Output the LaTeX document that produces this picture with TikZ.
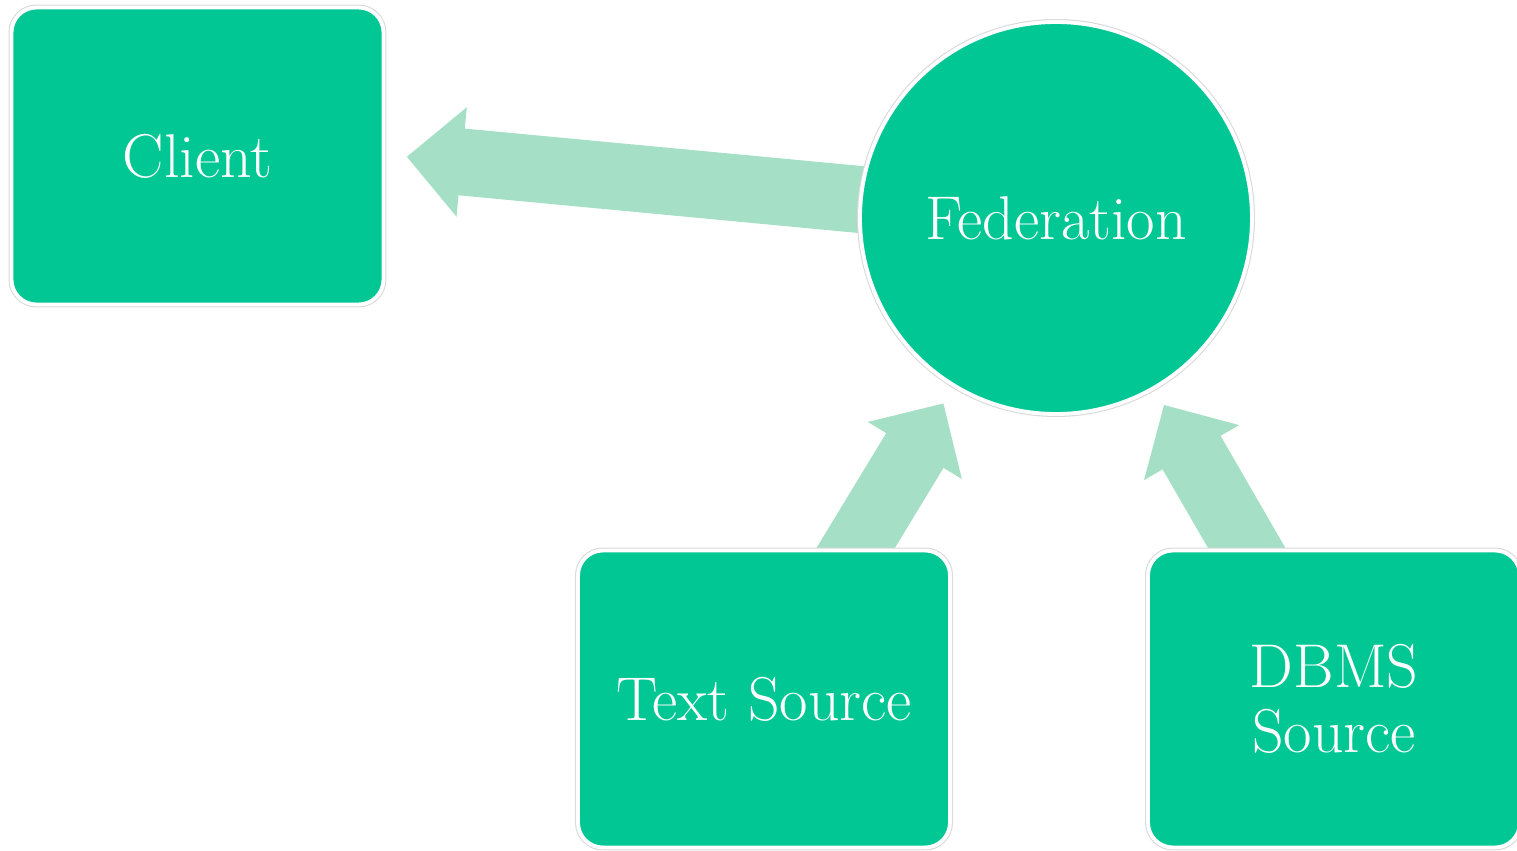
\documentclass[tikz,border=0pt]{standalone}
\usepackage{tikz}
\usetikzlibrary{calc,backgrounds}

\definecolor{smartgreen}{RGB}{0,199,148}
\definecolor{arrowgreen}{RGB}{164,223,198}

\tikzset{
	block/.style={rectangle,rounded corners=0.25cm,fill=smartgreen,draw=white,line width=1.1pt,
		preaction={draw=black!15,line width=1.7pt},
		minimum width=3.72cm,minimum height=2.97cm,inner sep=0pt,
		text=white,align=center,font=\fontsize{17.6}{18.5}\selectfont},
	hub/.style={circle,fill=smartgreen,draw=white,line width=1.1pt,
		preaction={draw=black!15,line width=1.7pt},
		minimum size=3.92cm,inner sep=0pt,
		text=white,font=\fontsize{17.6}{18.5}\selectfont},
	arrowfill/.style={fill=arrowgreen}
}

% fat arrow: #1 = tail, #2 = tip
\newcommand{\blockarrow}[2]{%
	\coordinate (hb) at ($(#2)!0.55cm!(#1)$);
	\fill[arrowfill] ($(#1)!0.335cm!90:(#2)$) -- ($(hb)!0.335cm!90:(#2)$)
		-- ($(hb)!0.55cm!90:(#2)$) -- (#2) -- ($(hb)!0.55cm!-90:(#2)$)
		-- ($(hb)!0.335cm!-90:(#2)$) -- ($(#1)!0.335cm!-90:(#2)$) -- cycle;
}

\begin{document}
\begin{tikzpicture}
		\useasboundingbox (0,0) rectangle (15.17,8.51);
		
		% nodes
		\node[block] (client) at (1.975,6.95) {Client};
		\node[hub] (fed) at (10.56,6.33) {Federation};
		\node[block] (textsrc) at (7.64,1.52) {Text Source};
		\node[block] (dbmssrc) at (13.34,1.52) {DBMS\\Source};
		
		% arrows, behind the shapes
		\begin{scope}[on background layer]
			\coordinate (clientaim) at ([yshift=1.9mm]client.center);
			\coordinate (tipclient) at ($(fed.center)!6.52cm!(clientaim)$);
			\coordinate (tiptext) at ($(fed.center)!2.17cm!(textsrc.center)$);
			\coordinate (tipdbms) at ($(fed.center)!2.16cm!(dbmssrc.center)$);
			\blockarrow{fed.center}{tipclient}
			\blockarrow{textsrc.center}{tiptext}
			\blockarrow{dbmssrc.center}{tipdbms}
		\end{scope}
	\end{tikzpicture}
\end{document}
